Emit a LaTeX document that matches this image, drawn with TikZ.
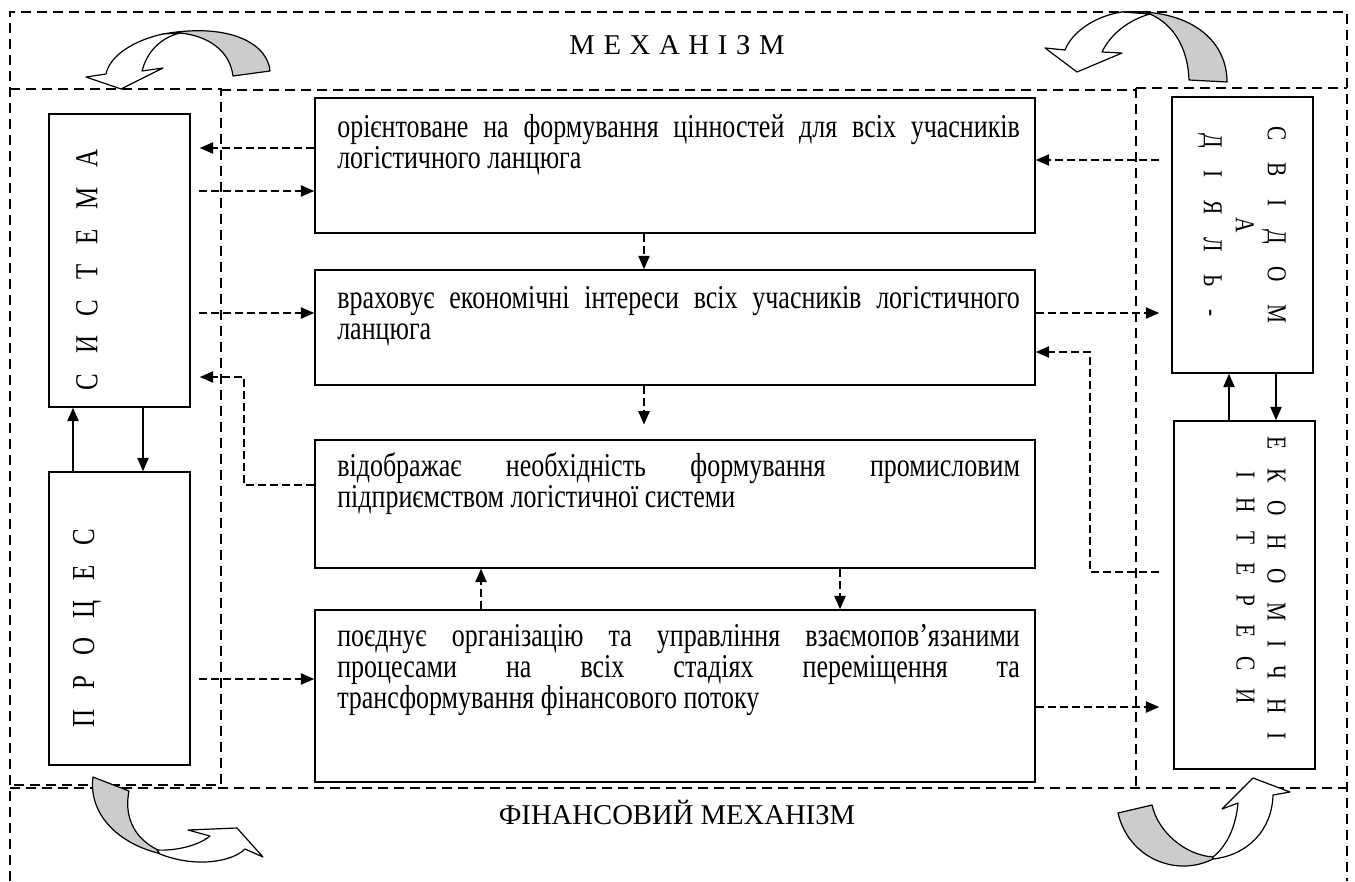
\documentclass[tikz,border=0pt]{standalone}
\usepackage{fontspec}
\setmainfont{Liberation Serif}
\newfontfamily\cnd[FakeStretch=0.78]{Liberation Serif}
\usetikzlibrary{arrows.meta,fit}

\newcommand{\lspA}{\hspace{14.8pt}}
\newcommand{\lspS}{\hspace{17pt}}
\newcommand{\lspB}{\hspace{13.9pt}}
\newcommand{\lspT}{\hspace{6.5pt}}

\tikzset{
  dframe/.style={dash pattern=on 7.5pt off 4.5pt, line width=0.9pt},
  cbox/.style={draw, line width=1.2pt, inner sep=0pt},
  dconn/.style={dash pattern=on 6pt off 3pt, line width=0.9pt,
                -{Triangle[length=10pt,width=8.5pt]}},
  sconn/.style={line width=0.9pt, -{Triangle[length=10pt,width=8.5pt]}},
  btxt/.style={anchor=base west, inner sep=0pt,
               font=\cnd\fontsize{25}{23.25}\selectfont},
  vtxt/.style={inner sep=0pt, align=center},
  ttxt/.style={inner sep=0pt, font=\fontsize{21.5}{24}\selectfont},
  ribback/.style={fill=black!20, draw, line width=0.9pt, line join=round},
  ribfront/.style={fill=white, draw, line width=0.9pt, line join=round},
}

\begin{document}
\begin{tikzpicture}[x=0.75pt,y=-0.75pt]
\useasboundingbox (0,0) rectangle (1355,881);

% dashed frames of the mechanisms
\draw[dframe] (10,881) -- (10,12) -- (1347,12) -- (1347,881);
\draw[dframe] (10,89) -- (221,89) -- (221,785) -- (10,785);
\draw[dframe] (221,90) -- (1136,90);
\draw[dframe] (1136,88) -- (1347,88);
\draw[dframe] (1136,88) -- (1136,788);
\draw[dframe] (10,788) -- (1347,788);

% titles
\node[ttxt] (ttop) at (677,45) {М\lspT Е\lspT Х\lspT А\lspT Н\lspT І\lspT З\lspT М};
\node[ttxt] (tbot) at (677,812) {ФІНАНСОВИЙ МЕХАНІЗМ};

% left column
\node[cbox, fit={(49,114) (190,407)}] (sys) {};
\node[cbox, fit={(49,472) (190,765)}] (proc) {};
\node[vtxt, rotate=90, font=\cnd\fontsize{24}{26}\selectfont] (tsys) at (87,270)
  {С\lspA И\lspA С\lspA Т\lspA Е\lspA М\lspA А};
\node[vtxt, rotate=90, font=\cnd\fontsize{24}{26}\selectfont] (tproc) at (87,628)
  {П\lspA Р\lspA О\lspA Ц\lspA Е\lspA С};

% right column
\node[cbox, fit={(1172,97) (1313,373)}] (sv) {};
\node[cbox, fit={(1174,421) (1315,769)}] (ek) {};
\node[vtxt, rotate=-90, font=\cnd\fontsize{20.5}{24}\selectfont] (tsv) at (1242,225)
  {С\lspS В\lspS І\lspS Д\lspS О\lspS М\\А\\Д\lspS І\lspS Я\lspS Л\lspS Ь\lspS -};
\node[vtxt, rotate=-90, font=\cnd\fontsize{20.5}{23.25}\selectfont] (tek) at (1261,588)
  {Е\lspB К\lspB О\lspB Н\lspB О\lspB М\lspB І\lspB Ч\lspB Н\lspB І\\І\lspB Н\lspB Т\lspB Е\lspB Р\lspB Е\lspB С\lspB И};

% central column
\node[cbox, fit={(315,98) (1035,233)}] (b1) {};
\node[cbox, fit={(315,270) (1035,385)}] (b2) {};
\node[cbox, fit={(315,440) (1035,568)}] (b3) {};
\node[cbox, fit={(315,610) (1035,782)}] (b4) {};

\node[btxt] (t1) at (337,137) {\parbox[t]{512pt}{%
  \makebox[512pt][s]{орієнтоване на формування цінностей для всіх учасників}\\
  логістичного ланцюга}};
\node[btxt] (t2) at (337,308) {\parbox[t]{512pt}{%
  \makebox[512pt][s]{враховує економічні інтереси всіх учасників логістичного}\\
  ланцюга}};
\node[btxt] (t3) at (337,476) {\parbox[t]{512pt}{%
  \makebox[512pt][s]{відображає необхідність формування промисловим}\\
  підприємством логістичної системи}};
\node[btxt] (t4) at (337,646) {\parbox[t]{512pt}{%
  \makebox[512pt][s]{поєднує організацію та управління взаємопов’язаними}\\
  \makebox[512pt][s]{процесами на всіх стадіях переміщення та}\\
  трансформування фінансового потоку}};

% solid links between the side boxes
\draw[sconn] (73,0 |- proc.north) -- (73,0 |- sys.south);
\draw[sconn] (143,0 |- sys.south) -- (143,0 |- proc.north);
\draw[sconn] (1229,0 |- ek.north) -- (1229,0 |- sv.south);
\draw[sconn] (1276,0 |- sv.south) -- (1276,0 |- ek.north);

% dashed links, left side
\draw[dconn, shorten >=6.75pt] (b1.west |- 0,148) -- (sys.east |- 0,148);
\draw[dconn, shorten <=6pt] (sys.east |- 0,191) -- (b1.west |- 0,191);
\draw[dconn, shorten <=6pt] (sys.east |- 0,313) -- (b2.west |- 0,313);
\draw[dconn, shorten >=6.75pt] (b3.west |- 0,485) -- (244,485) -- (244,377) -- (sys.east |- 0,377);
\draw[dconn, shorten <=6pt] (proc.east |- 0,679) -- (b4.west |- 0,679);

% dashed links, centre
\draw[dconn] (644,0 |- b1.south) -- (644,0 |- b2.north);
\draw[dconn, shorten >=11pt] (644,0 |- b2.south) -- (644,0 |- b3.north);
\draw[dconn] (481,0 |- b4.north) -- (481,0 |- b3.south);
\draw[dconn] (840,0 |- b3.south) -- (840,0 |- b4.north);

% dashed links, right side
\draw[dconn, shorten <=9pt] (sv.west |- 0,160) -- (b1.east |- 0,160);
\draw[dconn, shorten >=9pt] (b2.east |- 0,313) -- (sv.west |- 0,313);
\draw[dconn, shorten <=10.5pt] (ek.west |- 0,572) -- (1090,572) -- (1090,352) -- (b2.east |- 0,352);
\draw[dconn, shorten >=10.5pt] (b4.east |- 0,707) -- (ek.west |- 0,707);

% curved ribbon arrows in the corners
% top left
\draw[ribback] (233,76) -- (270,71) .. controls (268,45) and (232,22) .. (163,34)
  -- (180,33) .. controls (210,36) and (230,52) .. (233,76) -- cycle;
\draw[ribfront] (163,34) .. controls (135,40) and (110,55) .. (106,74)
  -- (86,77) -- (121,89) -- (163,68) -- (142,71)
  .. controls (147,52) and (160,38) .. (180,33) -- cycle;
% top right
\draw[ribback] (1189,80) -- (1227,82) .. controls (1227,40) and (1190,8) .. (1122,12)
  -- (1150,14) .. controls (1175,25) and (1188,50) .. (1189,80) -- cycle;
\draw[ribfront] (1122,12) .. controls (1095,16) and (1072,32) .. (1065,50)
  -- (1045,48) -- (1077,72) -- (1122,53) -- (1102,52)
  .. controls (1110,35) and (1128,20) .. (1150,14) -- cycle;
% bottom left
\draw[ribback] (93,777) -- (129,791) .. controls (124,815) and (133,838) .. (158,850)
  -- (162,854) .. controls (120,845) and (88,815) .. (93,777) -- cycle;
\draw[ribfront] (157,850) .. controls (175,851) and (198,846) .. (210,836)
  -- (188,830) -- (237,828) -- (263,857) -- (245,849)
  .. controls (232,862) and (195,868) .. (160,854) -- cycle;
% bottom right
\draw[ribback] (1118,813) -- (1152,805) .. controls (1158,832) and (1185,855) .. (1213,857)
  -- (1213,859) .. controls (1175,878) and (1128,857) .. (1118,813) -- cycle;
\draw[ribfront] (1213,857) .. controls (1228,845) and (1236,825) .. (1238,803)
  -- (1222,809) -- (1253,778) -- (1290,792) -- (1273,795)
  .. controls (1272,830) and (1248,855) .. (1213,859) -- cycle;
\end{tikzpicture}
\end{document}
